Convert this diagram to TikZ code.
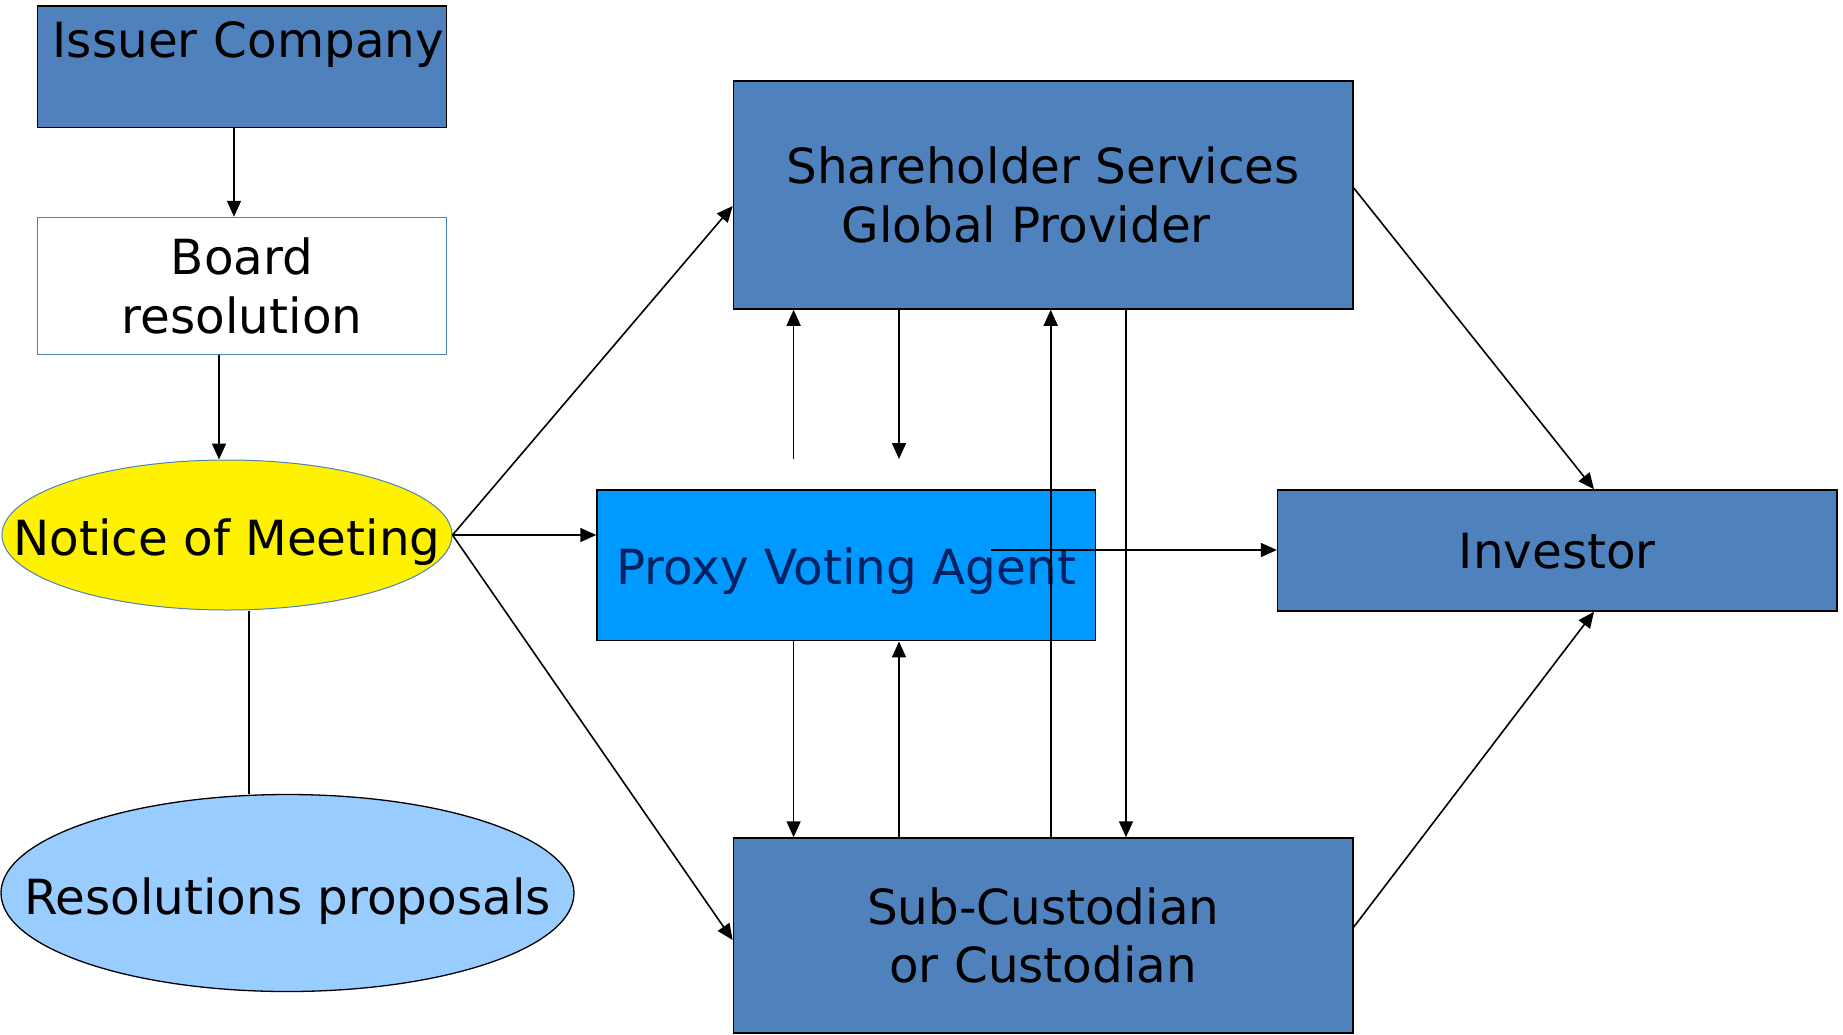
\documentclass[tikz,border=0pt]{standalone}
\usepackage{fontspec}
\setmainfont{DejaVu Sans}
\usetikzlibrary{arrows.meta,shapes.geometric}
\definecolor{boxblue}{HTML}{4F81BD}
\definecolor{proxyblue}{HTML}{0099FF}
\definecolor{navytext}{HTML}{002060}
\definecolor{paleblue}{HTML}{99CCFF}
\tikzset{
  block/.style={rectangle, draw=black, line width=1.5pt, fill=boxblue,
    inner sep=0pt, align=center},
  oval/.style={ellipse, inner sep=0pt},
  arr/.style={-{Triangle[length=16pt,width=14pt]}, line width=1.6pt},
  link/.style={line width=1.6pt},
}
\begin{document}
\begin{tikzpicture}[x=1pt, y=-1pt, font=\fontsize{48.4}{58.75}\selectfont]
\useasboundingbox (0,0) rectangle (1843,1034);

% issuer side
\node[block, minimum width=409pt, minimum height=121.5pt,
      text width=404pt, align=right, text height=20pt, text depth=39.5pt]
  (iss) at (242.1,66.75) {Issuer Company};
\node[block, draw=boxblue, fill=white, minimum width=409pt, minimum height=137pt]
  (brd) at (242.1,286) {Board\\resolution};
\node[oval, draw=boxblue, line width=1pt, fill=yellow,
      minimum width=450pt, minimum height=150pt, text height=40pt, text depth=0pt]
  (ntc) at (227,535) {\makebox[0pt]{Notice of Meeting}};
\node[oval, draw=black, line width=1.3pt, fill=paleblue,
      minimum width=573pt, minimum height=197pt, text height=43pt, text depth=0pt]
  (res) at (287.5,893) {\makebox[0pt]{Resolutions proposals}};

% intermediaries and investor
\node[block, minimum width=619.6pt, minimum height=228pt]
  (shr) at (1043.2,195) {Shareholder Services\\Global Provider\hspace*{34pt}};
\node[block, fill=proxyblue, text=navytext, minimum width=498.5pt, minimum height=150.7pt,
      text height=39pt, text depth=0pt]
  (prx) at (846.25,565.35) {Proxy Voting Agent};
\node[block, minimum width=559.4pt, minimum height=121pt,
      text height=35pt, text depth=0pt]
  (inv) at (1557.3,550.5) {Investor};
\node[block, minimum width=619.6pt, minimum height=195pt]
  (sub) at (1043.2,935.5) {Sub-Custodian\\or Custodian};

% connector columns and rows
\coordinate (c1) at (234,0);
\coordinate (c2) at (219,0);
\coordinate (c3) at (249,0);
\coordinate (c4) at (793.6,0);
\coordinate (c5) at (899,0);
\coordinate (c6) at (1050.7,0);
\coordinate (c7) at (1126,0);
\coordinate (c8) at (1594,0);
\coordinate (r1) at (0,206);
\coordinate (r2) at (0,940);
\coordinate (r3) at (0,188);
\coordinate (r4) at (0,927);
\coordinate (gap) at (0,459);
\coordinate (pvstart) at (991,550);

% connectors
\draw[arr] (iss.south -| c1) -- (brd.north -| c1);
\draw[arr] (brd.south -| c2) -- (ntc.north -| c2);
\draw[link] (ntc.south -| c3) -- (res.north -| c3);
\draw[arr] (ntc.east) -- (shr.west |- r1);
\draw[arr] (ntc.east) -- (prx.west |- ntc.east);
\draw[arr] (ntc.east) -- (sub.west |- r2);
\draw[arr] (shr.east |- r3) -- (inv.north -| c8);
\draw[arr] (sub.east |- r4) -- (inv.south -| c8);
\draw[arr] (pvstart) -- (inv.west |- pvstart);
\draw[arr] (c4 |- gap) -- (shr.south -| c4);
\draw[arr] (shr.south -| c5) -- (c5 |- gap);
\draw[arr] (prx.south -| c4) -- (sub.north -| c4);
\draw[arr] (sub.north -| c5) -- (prx.south -| c5);
\draw[arr] (sub.north -| c6) -- (shr.south -| c6);
\draw[arr] (shr.south -| c7) -- (sub.north -| c7);
\end{tikzpicture}
\end{document}
